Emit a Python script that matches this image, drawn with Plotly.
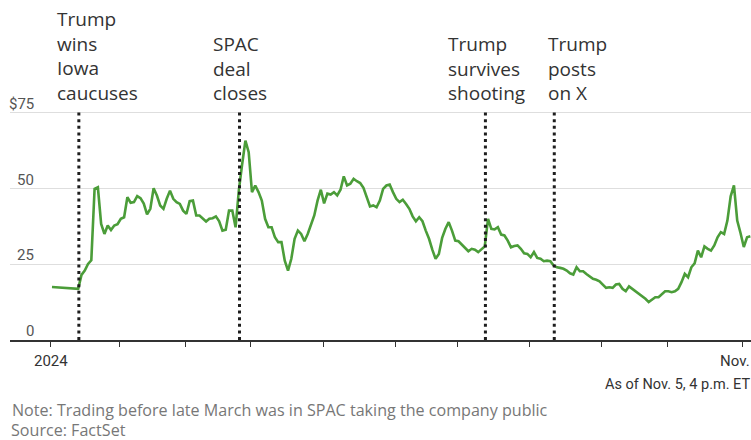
import numpy as np
import pandas as pd
import plotly.graph_objects as go

# Trading calendar: NYSE sessions from the first session of 2024 through Nov. 5
first_session = "2024-01-02"
last_session = "2024-11-05"
market_holidays = ["2024-01-15", "2024-02-19", "2024-03-29", "2024-05-27",
                   "2024-06-19", "2024-07-04", "2024-09-02"]

# Daily closing price in dollars, one value per trading session
close_price = [
    17.5, 17.4, 17.3, 17.3, 17.2, 17.2, 17.1, 17.0, 16.9, 21.5,
    22.9, 25.1, 26.3, 49.9, 50.4, 38.3, 35.0, 37.8, 36.3, 37.8,
    38.2, 40.0, 40.5, 47.1, 45.3, 45.5, 47.5, 46.8, 45.0, 41.5,
    43.3, 50.1, 47.7, 44.4, 43.3, 46.6, 49.3, 46.6, 45.5, 44.9,
    42.7, 41.6, 45.8, 46.0, 41.1, 41.1, 40.0, 39.1, 40.0, 40.2,
    40.8, 39.2, 36.1, 36.4, 42.7, 42.7, 37.2, 49.5, 58.0, 65.8,
    62.0, 48.8, 51.0, 48.8, 46.0, 40.0, 37.2, 37.2, 33.9, 32.3,
    32.3, 26.2, 22.9, 26.8, 33.4, 36.1, 35.0, 32.6, 35.0, 37.8,
    41.1, 46.0, 49.6, 45.1, 48.3, 48.0, 48.8, 47.7, 49.6, 54.0,
    51.0, 51.6, 53.2, 52.4, 51.8, 50.2, 47.1, 44.1, 44.4, 43.8,
    46.0, 49.9, 51.0, 51.3, 48.8, 46.6, 45.5, 46.3, 44.9, 43.3,
    40.8, 39.2, 40.5, 39.2, 36.1, 33.4, 29.8, 26.8, 28.4, 33.7,
    36.7, 38.9, 36.1, 32.8, 32.6, 31.5, 30.6, 29.3, 30.1, 29.8,
    29.0, 29.8, 30.9, 40.0, 36.7, 36.5, 37.2, 34.8, 34.5, 32.8,
    30.6, 31.0, 31.2, 30.1, 28.6, 28.4, 27.3, 29.0, 27.1, 26.8,
    26.0, 26.2, 26.0, 24.6, 24.0, 23.8, 23.5, 22.9, 22.0, 21.6,
    24.0, 22.7, 22.7, 21.8, 21.0, 20.2, 19.9, 19.4, 18.3, 17.2,
    17.4, 17.2, 18.3, 18.5, 16.9, 16.1, 17.7, 16.9, 16.1, 15.4,
    14.7, 13.6, 12.5, 13.3, 14.1, 14.1, 15.0, 16.1, 16.1, 15.8,
    16.1, 16.9, 19.1, 21.8, 20.7, 24.0, 25.3, 29.5, 27.3, 30.9,
    30.1, 29.5, 31.2, 33.9, 35.6, 35.0, 39.4, 47.4, 51.0, 39.4,
    35.3, 30.7, 33.9, 34.2,
]

# Events, marked between the last session on/before the date and the next one
event_dates = ["2024-01-15", "2024-03-25", "2024-07-13", "2024-08-12"]
event_labels = ["Trump<br>wins<br>Iowa<br>caucuses",
                "SPAC<br>deal<br>closes",
                "Trump<br>survives<br>shooting",
                "Trump<br>posts<br>on X"]
event_label_shift = [-24, -29, -39, -8]

y_tick_values = [0, 25, 50, 75]
y_tick_labels = ["0", "25", "50", "$75"]
first_tick_label = "2024"
last_tick_label = "Nov."

as_of_text = "As of Nov. 5, 4 p.m. ET"
note_text = "Note: Trading before late March was in SPAC taking the company public"
source_text = "Source: FactSet"

# ---------------------------------------------------------------------------
sessions = pd.bdate_range(first_session, last_session, freq="C",
                          holidays=market_holidays)
session_pos = np.arange(len(sessions)) + 0.3  # closes sit inside each session slot
month_starts = pd.date_range("2024-01-01", "2024-11-01", freq="MS")
month_tick_pos = sessions.searchsorted(month_starts)
event_pos = [sessions.searchsorted(pd.Timestamp(d), side="right") - 0.5
             for d in event_dates]

GREEN = "#4b9d39"
DARK = "#333333"
TICKFONT = "Roboto, Liberation Sans, sans-serif"
SANS = "Open Sans, Noto Sans, sans-serif"

fig = go.Figure()
fig.add_trace(go.Scatter(
    x=session_pos, y=close_price, mode="lines",
    line=dict(color=GREEN, width=2.6, shape="linear"),
    hoverinfo="skip", showlegend=False,
))

# dotted event markers
for pos in event_pos:
    fig.add_shape(type="line", xref="x", yref="paper",
                  x0=pos, x1=pos, y0=0, y1=1,
                  line=dict(color="#1e1e1e", width=3, dash="3px,3.6px"))

annotations = []
for pos, text, shift in zip(event_pos, event_labels, event_label_shift):
    annotations.append(dict(
        x=pos, y=1.02, xref="x", yref="paper", xanchor="left", yanchor="bottom",
        text=text, align="left", showarrow=False, xshift=shift, yshift=-3,
        font=dict(family=SANS, size=19, color=DARK),
    ))

# y tick labels sit just above their gridlines
for val, lab in zip(y_tick_values, y_tick_labels):
    annotations.append(dict(
        x=(36 - 10) / 741, y=val, xref="paper", yref="y",
        xanchor="right", yanchor="bottom", yshift=-2,
        text=lab, showarrow=False,
        font=dict(family=TICKFONT, size=15, color="#555555"),
    ))

annotations.append(dict(
    x=month_tick_pos[0], y=0, xref="x", yref="paper",
    xanchor="center", yanchor="top", yshift=-10,
    text=first_tick_label, showarrow=False,
    font=dict(family=TICKFONT, size=15, color=DARK),
))
annotations.append(dict(
    x=1, y=0, xref="paper", yref="paper",
    xanchor="right", yanchor="top", yshift=-10, xshift=1,
    text=last_tick_label, showarrow=False,
    font=dict(family=TICKFONT, size=15, color=DARK),
))
annotations.append(dict(
    x=1, y=0, xref="paper", yref="paper",
    xanchor="right", yanchor="top", yshift=-34, xshift=1,
    text=as_of_text, showarrow=False,
    font=dict(family=TICKFONT, size=14.5, color=DARK),
))
annotations.append(dict(
    x=0, y=0, xref="paper", yref="paper",
    xanchor="left", yanchor="top", yshift=-57,
    text=note_text, showarrow=False,
    font=dict(family=SANS, size=16.1, color="#777777"),
))
annotations.append(dict(
    x=0, y=0, xref="paper", yref="paper",
    xanchor="left", yanchor="top", yshift=-78, borderpad=0,
    text=source_text, showarrow=False,
    font=dict(family=SANS, size=16.1, color="#777777"),
))

fig.update_layout(
    width=751, height=440,
    margin=dict(l=10, r=0, t=110, b=100, pad=0),
    paper_bgcolor="white", plot_bgcolor="white",
    annotations=annotations,
    xaxis=dict(
        range=[-12.5, 213.5], showgrid=False, zeroline=False,
        showline=True, linecolor=DARK, linewidth=1.5,
        tickmode="array", tickvals=month_tick_pos, ticks="outside",
        ticklen=5, tickwidth=1, tickcolor=DARK, showticklabels=False,
    ),
    yaxis=dict(
        range=[0, 230 / 3.03], tickmode="array", tickvals=y_tick_values,
        showticklabels=False, showgrid=True, gridcolor="#dedede",
        gridwidth=1, zeroline=False, showline=False, ticks="",
    ),
)

fig.write_html("out.html", config={"displayModeBar": False})
